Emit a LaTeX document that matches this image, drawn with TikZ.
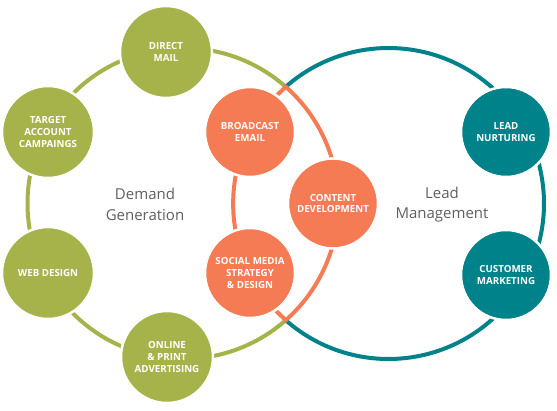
\documentclass[tikz,border=0pt]{standalone}
\usepackage{fontspec}
\setmainfont{Open Sans}
\usepackage{tikz}
\usetikzlibrary{calc}
\definecolor{dgreen}{HTML}{A6B34A}
\definecolor{corange}{HTML}{F47B53}
\definecolor{lteal}{HTML}{00828A}
\definecolor{tgray}{HTML}{5F5F5F}
\begin{document}
\begin{tikzpicture}[x=1pt,y=1pt]
	\tikzstyle{every node}=[font=\fontsize{9.75}{11.7}\selectfont\bfseries, text=white, align=center]
	\tikzstyle{bubble}=[circle, draw=white, line width=2.5pt, inner sep=0pt]
	\tikzstyle{demandnode}=[bubble, fill=dgreen, minimum size=92pt]
	\tikzstyle{contentnode}=[bubble, fill=corange, minimum size=90pt]
	\tikzstyle{leadnode}=[bubble, fill=lteal, minimum size=90pt]
	\tikzstyle{ringtitle}=[text=tgray, font=\fontsize{15}{20.5}\selectfont]
	\useasboundingbox (0,0) rectangle (557,410);
	
	\coordinate (G) at (183,206.5);
	\coordinate (T) at (388.5,206.5);
	
	% demand generation ring
	\draw[dgreen, line width=4pt] ($(G)+(48.6:155.5)$) arc[start angle=48.6, end angle=311.4, radius=155.5];
	% lead management ring
	\draw[lteal, line width=4pt] ($(T)+(-131.4:155.5)$) arc[start angle=-131.4, end angle=131.4, radius=155.5];
	% overlap
	\draw[corange, line width=4pt] ($(G)+(-48.6:155.5)$) arc[start angle=-48.6, end angle=48.6, radius=155.5] arc[start angle=131.4, end angle=228.6, radius=155.5] -- cycle;
	
	\node[ringtitle] (demand) at (145,205.5) {Demand\\Generation};
	\node[ringtitle] (lead) at (442,205.5) {Lead\\Management};
	
	\node[demandnode] (mail) at (166,358) {DIRECT\\MAIL};
	\node[demandnode] (target) at (48,278) {TARGET\\ACCOUNT\\CAMPAINGS};
	\node[demandnode] (web) at (48,137) {WEB DESIGN};
	\node[demandnode] (online) at (167,53) {ONLINE\\\& PRINT\\ADVERTISING};
	
	\node[contentnode] (broadcast) at (250,278) {BROADCAST\\EMAIL};
	\node[contentnode] (social) at (250,137) {SOCIAL MEDIA\\STRATEGY\\\& DESIGN};
	\node[contentnode] (content) at (333,206.5) {CONTENT\\DEVELOPMENT};
	
	\node[leadnode] (nurturing) at (506,278) {LEAD\\NURTURING};
	\node[leadnode] (customer) at (506,135) {CUSTOMER\\MARKETING};
	
\end{tikzpicture}
\end{document}
